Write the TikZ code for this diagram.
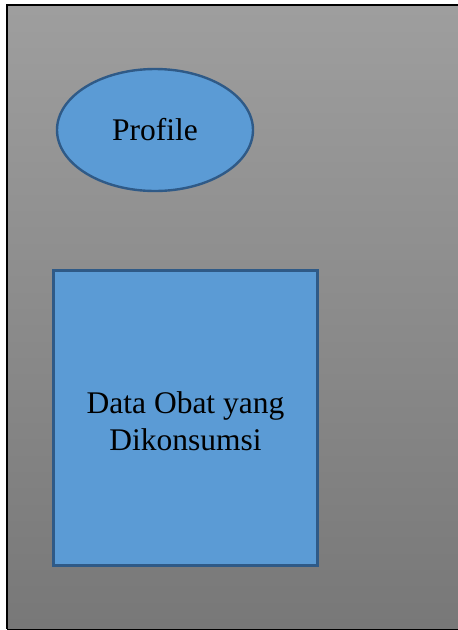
\documentclass[tikz,border=0pt]{standalone}
\usepackage{fontspec}
\setmainfont{Liberation Serif}
\usetikzlibrary{shapes.geometric}
\definecolor{boxfill}{HTML}{5B9BD5}
\definecolor{boxline}{HTML}{2F5A87}
\tikzset{
  blueshape/.style={fill=boxfill, draw=boxline, line width=2.4pt, font=\fontsize{31.5}{37}\selectfont, align=center, inner sep=0pt},
}
\begin{document}
\begin{tikzpicture}[x=1pt,y=-1pt]
            \useasboundingbox (0,0) rectangle (458,630);
            % backdrop
            \shade[top color=black!38, bottom color=black!53] (7,5) rectangle (458,629);
            \draw[line width=1.6pt] (458,5) -- (7,5) -- (7,629);
            \draw[line width=0.8pt] (7,629) -- (458,629);
            
            \node[blueshape, ellipse, minimum width=196pt, minimum height=122pt] (profile) at (155,130) {Profile};
            \node[blueshape, rectangle, minimum width=264pt, minimum height=295pt] (obat) at (185.5,418) {};
            \node[font=\fontsize{31.5}{37}\selectfont, align=center] (obattext) at (185.5,421) {Data Obat yang\\Dikonsumsi};
        \end{tikzpicture}
\end{document}
